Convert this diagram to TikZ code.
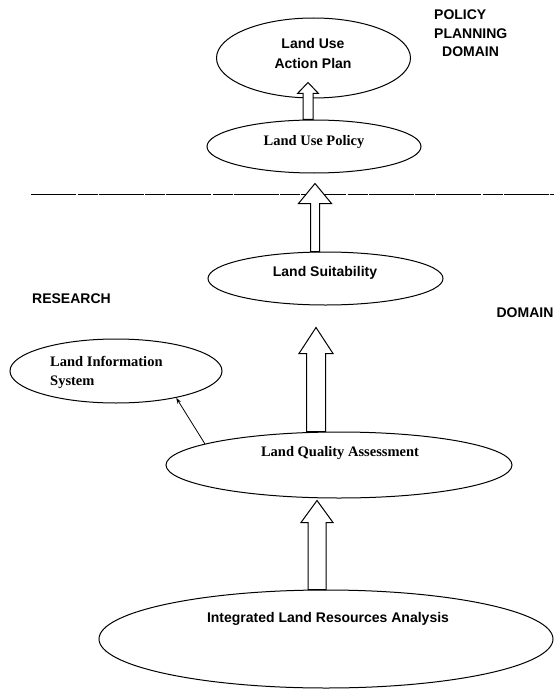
\documentclass[tikz,border=0pt]{standalone}
\usepackage{fontspec}
\setmainfont{Liberation Serif}
\setsansfont{Liberation Sans}
\usetikzlibrary{positioning, calc, arrows.meta, shapes.geometric}

\tikzset{
  oval/.style={draw, ellipse, line width=1pt, inner sep=0pt},
  sanslbl/.style={font=\sffamily\bfseries\fontsize{14}{20}\selectfont, inner sep=0pt},
  seriflbl/.style={font=\rmfamily\bfseries\fontsize{14.5}{19}\selectfont, inner sep=0pt},
  blockbody/.style={draw, fill=white, line width=1pt, line join=miter},
  thinarrow/.style={line width=0.8pt, -{Stealth[length=6pt,width=4pt]}},
  divider/.style={line width=1pt, dash pattern=on 45pt off 1.5pt on 20pt off 1pt},
}

% hollow block arrow: x, tail point, tip point, shaft half width, head half width, head length
\newcommand{\blockarrow}[6]{%
  \draw[blockbody] let \p1=#2, \p2=#3 in
    (#1pt-#4pt,\y1) -- (#1pt-#4pt,\y2-#6pt) -- (#1pt-#5pt,\y2-#6pt) -- (#1pt,\y2)
    -- (#1pt+#5pt,\y2-#6pt) -- (#1pt+#4pt,\y2-#6pt) -- (#1pt+#4pt,\y1) -- cycle;}

\begin{document}
\begin{tikzpicture}[x=1pt, y=-1pt] % 1 unit = 1 pixel of the page, y pointing down

\useasboundingbox (0,0) rectangle (554,690);

% ellipses
\node[oval, minimum width=194pt, minimum height=80pt] (plan) at (313.5,58) {};
\node[oval, minimum width=214pt, minimum height=53pt] (pol) at (314,146.5) {};
\node[oval, minimum width=235pt, minimum height=53pt] (ls) at (325.5,278.5) {};
\node[oval, minimum width=212pt, minimum height=64pt] (lis) at (116,371) {};
\node[oval, minimum width=346pt, minimum height=66pt] (lqa) at (339,465) {};
\node[oval, minimum width=454pt, minimum height=98pt] (ilra) at (326,639) {};

% domain divider
\coordinate (divl) at (31,194);
\coordinate (divr) at (554,194);
\draw[divider] (divl) -- (divr);

% block arrows
\blockarrow{308}{(pol.north)}{([yshift=16pt]plan.south)}{5}{10.5}{11}
\blockarrow{315}{(ls.north)}{([yshift=-10pt]pol.south)}{4.5}{16.5}{20}
\blockarrow{316}{(lqa.north)}{([yshift=-22pt]ls.south)}{9.5}{17}{26}
\blockarrow{317}{(ilra.north)}{([yshift=-2pt]lqa.south)}{9}{16}{22}

\draw[thinarrow] (lqa.171) -- (lis.-24);

% texts
\node[sanslbl, align=center] (plan-t) at (313,53) {Land Use\\Action Plan};
\node[seriflbl] (pol-t) at (314,142) {Land Use Policy};
\node[sanslbl] (ls-t) at (325,273) {Land Suitability};
\node[seriflbl, align=left, anchor=west] (lis-t) at (50,372.5) {Land Information\\System};
\node[seriflbl] (lqa-t) at (340,453) {Land Quality Assessment};
\node[sanslbl] (ilra-t) at (328,619) {Integrated Land Resources Analysis};

\node[sanslbl, align=left, anchor=west, font=\sffamily\bfseries\fontsize{14}{18.5}\selectfont] (ppd) at (434,33.5) {POLICY\\PLANNING\\\hspace*{8pt}DOMAIN};
\node[sanslbl, anchor=west] (res) at (32,299) {RESEARCH};
\node[sanslbl] (dom) at (525,313) {DOMAIN};

\end{tikzpicture}
\end{document}
